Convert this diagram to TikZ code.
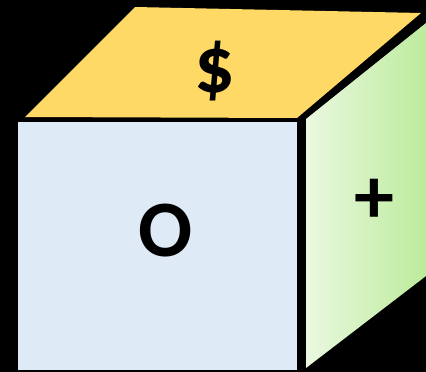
\documentclass[tikz,border=0pt]{standalone}
\usepackage{fontspec}
\setmainfont{Carlito}
\definecolor{topc}{HTML}{FFD966}
\definecolor{frontc}{HTML}{DEEAF6}
\definecolor{sideL}{HTML}{EAF8E0}
\definecolor{sideR}{HTML}{BDEB9C}
\tikzset{
  facelabel/.style={inner sep=0pt, anchor=base, text=black,
    font=\fontsize{80}{80}\selectfont\bfseries}
}
\begin{document}
\begin{tikzpicture}[x=1pt,y=-1pt]
\useasboundingbox (0,0) rectangle (426,372);
\fill[black] (0,0) rectangle (426,372);
% top face
\fill[topc] (25,117) -- (135,7) -- (421,13) -- (297,118) -- cycle;
% front face
\fill[frontc] (18,122) rectangle (297,370);
% right face
\shade[left color=sideL, right color=sideR]
  (306,119) -- (426,23) -- (426,276) -- (306,368) -- cycle;
\node[facelabel] (dollar) at (215,92) {\$};
\node[facelabel] (oh) at (166,256) {O};
\node[facelabel] (plus) at (374,223) {+};
\end{tikzpicture}
\end{document}
